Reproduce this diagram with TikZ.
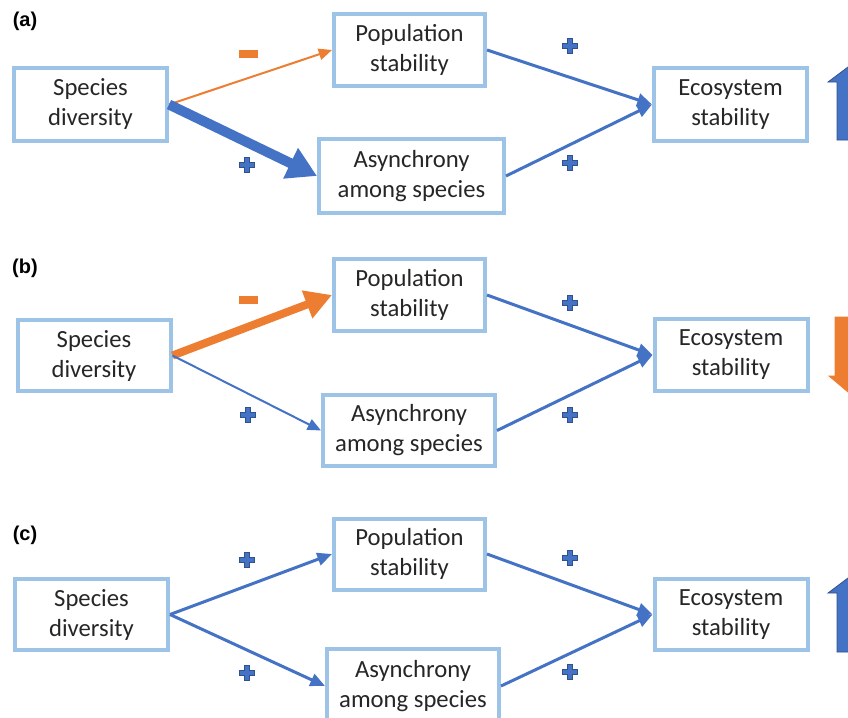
\documentclass[tikz,border=0pt]{standalone}
\usepackage{fontspec}
\setmainfont{Carlito}
\setsansfont{Liberation Sans}
\usetikzlibrary{backgrounds,arrows.meta}
\usepackage{xcolor}
\definecolor{bgColor}{HTML}{ffffff}
\definecolor{fgColor}{HTML}{262626}
\definecolor{boxColor}{HTML}{9DC3E6}
\definecolor{posColor}{HTML}{4472C4}
\definecolor{posEdge}{HTML}{2F528F}
\definecolor{negColor}{HTML}{ED7D31}

\tikzset{
	box/.style={draw=boxColor, line width=3pt, fill=bgColor, text=fgColor, align=center, inner sep=2pt, minimum width=114.75pt, minimum height=54.75pt, font=\fontsize{18.5}{22.5}\selectfont},
	wideBox/.style={box, minimum width=129pt},
	panelLabel/.style={text=black, inner sep=0pt, font=\sffamily\bfseries\fontsize{15}{17}\selectfont},
	posLink/.style={draw=posColor, line width=2.25pt, -{Triangle[length=11pt,width=9.5pt]}},
	posThin/.style={draw=posColor, line width=1.5pt, -{Triangle[length=10pt,width=8.5pt]}},
	posBold/.style={draw=posColor, line width=7.5pt, -{Triangle[length=22pt,width=24pt]}},
	negThin/.style={draw=negColor, line width=1.5pt, -{Triangle[length=10pt,width=8.5pt]}},
	negBold/.style={draw=negColor, line width=6pt, -{Triangle[length=20pt,width=21pt]}},
	plusMark/.pic={\draw[draw=posEdge, fill=posColor, line width=0.7pt] (-2.9,-7.6) -- (2.9,-7.6) -- (2.9,-2.9) -- (7.6,-2.9) -- (7.6,2.9) -- (2.9,2.9) -- (2.9,7.6) -- (-2.9,7.6) -- (-2.9,2.9) -- (-7.6,2.9) -- (-7.6,-2.9) -- (-2.9,-2.9) -- cycle;},
	minusMark/.pic={\fill[negColor] (-9.5,-4.2) rectangle (9.5,4.2);},
	bigUp/.style={draw=posEdge, fill=posColor, line width=0.6pt},
	bigDown/.style={draw=negColor, fill=negColor, line width=0.6pt}
}

\begin{document}
\begin{tikzpicture}[x=0.75pt,y=0.75pt,yscale=-1,xscale=1, background rectangle/.style={fill=bgColor}, inner frame sep=0pt, show background rectangle]
		\useasboundingbox (0,0) rectangle (848,717);
		\clip (0,0) rectangle (848,717);

		% Panel (a)
		\node[panelLabel] (labA) at (25,21) {(a)};
		\node[box] (spA)  at (90.5,104.5) {Species\\diversity};
		\node[box, minimum width=113.25pt, minimum height=54pt] (popA) at (409.5,50) {Population\\stability};
		\node[wideBox, minimum width=138.75pt, minimum height=55.5pt] (asyA) at (411.5,176) {Asynchrony\\among species};
		\node[box] (ecoA) at (730.5,104.5) {Ecosystem\\stability};

		% Panel (b)
		\node[panelLabel] (labB) at (25,268) {(b)};
		\node[box, minimum height=53.25pt] (spB)  at (94,355.5) {Species\\diversity};
		\node[box, minimum width=113.25pt, minimum height=54pt] (popB) at (409.5,295) {Population\\stability};
		\node[wideBox, minimum height=53.25pt] (asyB) at (409,430.5) {Asynchrony\\among species};
		\node[box, minimum height=54pt] (ecoB) at (731,355) {Ecosystem\\stability};

		% Panel (c)
		\node[panelLabel] (labC) at (25,535) {(c)};
		\node[box, minimum height=53.25pt] (spC)  at (91.5,614.5) {Species\\diversity};
		\node[box, minimum width=113.25pt, minimum height=53.25pt] (popC) at (409.5,554) {Population\\stability};
		\node[wideBox, minimum height=55.5pt] (asyC) at (413,686) {Asynchrony\\among species};
		\node[box, minimum height=53.25pt] (ecoC) at (731,614.5) {Ecosystem\\stability};

		% Straight Lines
		\draw [negThin] (spA.east)  -- (popA.west);
		\draw [posBold] (spA.east)  -- (asyA.west);
		\draw [posLink] (popA.east) -- (ecoA.west);
		\draw [posLink] (asyA.east) -- (ecoA.west);

		\draw [negBold] (spB.east)  -- (popB.west);
		\draw [posThin] (spB.east)  -- (asyB.west);
		\draw [posLink] (popB.east) -- (ecoB.west);
		\draw [posLink] (asyB.east) -- (ecoB.west);

		\draw [posLink] (spC.east)  -- (popC.west);
		\draw [posLink] (spC.east)  -- (asyC.west);
		\draw [posLink] (popC.east) -- (ecoC.west);
		\draw [posLink] (asyC.east) -- (ecoC.west);

		% Signs
		\pic (minusA1) at (248,54)  {minusMark};
		\pic (plusA1)  at (247,165) {plusMark};
		\pic (plusA2)  at (570,46)  {plusMark};
		\pic (plusA3)  at (570,163) {plusMark};

		\pic (minusB1) at (248,300) {minusMark};
		\pic (plusB1)  at (248,415) {plusMark};
		\pic (plusB2)  at (570,303) {plusMark};
		\pic (plusB3)  at (570,415) {plusMark};

		\pic (plusC1)  at (247,560) {plusMark};
		\pic (plusC2)  at (247,673) {plusMark};
		\pic (plusC3)  at (570,558) {plusMark};
		\pic (plusC4)  at (570,672) {plusMark};

		% Block Arrows
		\draw [bigUp,   shift={(848,67)}]  (0,0) -- (20,15) -- (11,15) -- (11,73) -- (-11,73) -- (-11,15) -- (-20,15) -- cycle;
		\draw [bigDown, shift={(848,392)}] (0,0) -- (19,-16) -- (13,-16) -- (13,-75) -- (-13,-75) -- (-13,-16) -- (-19,-16) -- cycle;
		\draw [bigUp,   shift={(848,578)}] (0,0) -- (20,15) -- (11,15) -- (11,74) -- (-11,74) -- (-11,15) -- (-20,15) -- cycle;
	\end{tikzpicture}
\end{document}
